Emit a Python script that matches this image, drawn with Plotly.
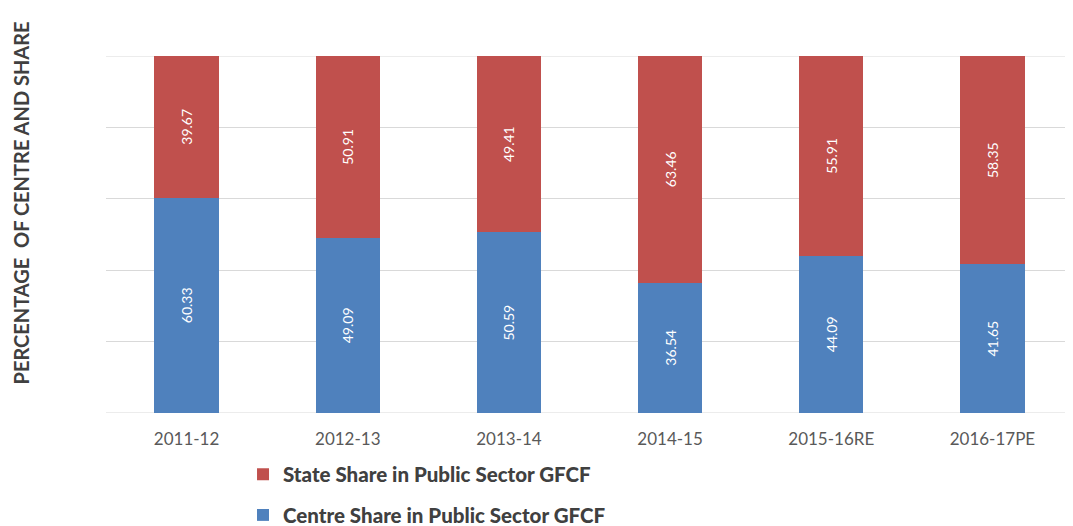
import plotly.graph_objects as go

categories = ["2011-12", "2012-13", "2013-14", "2014-15", "2015-16RE", "2016-17PE"]
centre_share = [60.33, 49.09, 50.59, 36.54, 44.09, 41.65]
state_share = [39.67, 50.91, 49.41, 63.46, 55.91, 58.35]

BLUE = "#4F81BD"
RED = "#C0504D"
FONT = "Lato"

fig = go.Figure()
fig.add_trace(go.Bar(
    x=categories, y=centre_share, name="Centre Share in Public Sector GFCF",
    marker=dict(color=BLUE, line=dict(width=0)),
    text=[f"{v:.2f}" for v in centre_share], textposition="inside",
    insidetextanchor="middle", textangle=-90,
    textfont=dict(color="white", size=14, family=FONT),
    legendgroup="c", legendrank=2,
))
fig.add_trace(go.Bar(
    x=categories, y=state_share, name="State Share in Public Sector GFCF",
    marker=dict(color=RED, line=dict(width=0)),
    text=[f"{v:.2f}" for v in state_share], textposition="inside",
    insidetextanchor="middle", textangle=-90,
    textfont=dict(color="white", size=14, family=FONT),
    legendgroup="s", legendrank=1,
))

fig.update_layout(
    width=1065, height=518,
    barmode="stack", bargap=0.6,
    paper_bgcolor="white", plot_bgcolor="white",
    margin=dict(l=98, r=0, t=48, b=113, autoexpand=False),
    font=dict(family=FONT, color="#404040"),
    legend=dict(
        x=0.1417, y=-0.116, xanchor="left", yanchor="top",
        orientation="v", traceorder="grouped", tracegroupgap=11,
        font=dict(size=20.5, color="#404040", family=FONT + " Black"),
        bgcolor="rgba(0,0,0,0)",
    ),
    xaxis=dict(
        type="category",
        showgrid=False, showline=False, ticks="outside", ticklen=11,
        tickcolor="rgba(0,0,0,0)",
        tickfont=dict(size=17, color="#595959", family=FONT),
    ),
    yaxis=dict(
        range=[0, 100], dtick=20, showgrid=True, gridcolor="#D9D9D9",
        gridwidth=1, showticklabels=False, zeroline=False, showline=False,
    ),
    shapes=[
        dict(type="line", xref="paper", yref="y", x0=0, x1=1, y0=0, y1=0,
             line=dict(color="#D9D9D9", width=1), layer="below"),
        dict(type="line", xref="paper", yref="y", x0=0, x1=1, y0=100, y1=100,
             line=dict(color="#D9D9D9", width=1), layer="below"),
    ],
    annotations=[dict(
        text="<b>PERCENTAGE  OF CENTRE AND SHARE</b>", textangle=-90,
        xref="paper", yref="paper", x=-0.0879, y=0.587,
        xanchor="center", yanchor="middle", showarrow=False,
        font=dict(size=20, color="#404040", family=FONT),
    )],
)

fig.write_html("out.html")
